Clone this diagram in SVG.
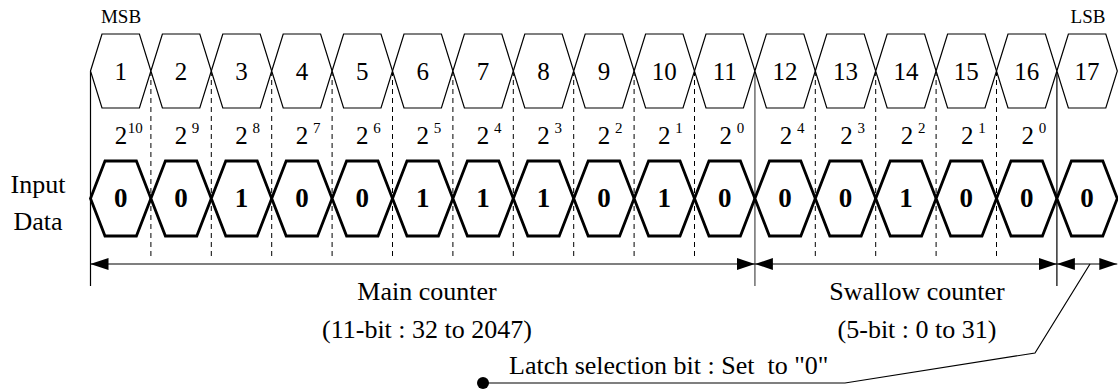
<svg xmlns="http://www.w3.org/2000/svg" xmlns:xlink="http://www.w3.org/1999/xlink" width="1118" height="392" viewBox="0 0 1118 392">
<style>
.t{font-family:'Liberation Serif','Times New Roman',Times,serif;fill:#000}
.num{font-size:25px;text-anchor:middle}
.bit{font-size:27px;font-weight:bold;text-anchor:middle}
.two{font-size:25px;text-anchor:middle}
.sup{font-size:15px}
.lbl{font-size:26px;text-anchor:middle}
.sm{font-size:19px;text-anchor:middle}
.ht{fill:#fff;stroke:#000;stroke-width:1.2}
.hb{fill:#fff;stroke:#000;stroke-width:2.8;stroke-linejoin:miter}
.dash{stroke:#000;stroke-width:1;stroke-dasharray:5,4;fill:none}
.solid{stroke:#000;stroke-width:1.2;fill:none}
.conn{stroke:#000;stroke-width:1.2;fill:none}
</style>
<defs>
<path id="hexT" class="ht" d="M0,71 L11.5,34 L48.9,34 L60.4,71 L48.9,108 L11.5,108 Z"/>
<path id="hexB" class="hb" d="M0,198.5 L14.5,161 L45.9,161 L60.4,198.5 L45.9,236 L14.5,236 Z"/>
<marker id="ah" markerUnits="userSpaceOnUse" markerWidth="18" markerHeight="12" refX="18" refY="6" orient="auto-start-reverse"><path d="M0,0 L18,6 L0,12 Z" fill="#000"/></marker>
</defs>
<g font-family="Liberation Serif, Times New Roman, serif" class="t">
<g id="labels">
<text class="t sm" x="121" y="23">MSB</text>
<text class="t sm" x="1088" y="23">LSB</text>
<text class="t lbl" x="38" y="193">Input</text>
<text class="t lbl" x="38" y="230">Data</text>
</g>
<g id="guides">
<path class="solid" d="M90.5,71 V286 M1056.9,71 V286"/>
<path d="M754.9,71 V286" stroke="#777" stroke-width="1.6" fill="none"/>
<path class="dash" d="M150.9,71 V259 M211.3,71 V259 M271.7,71 V259 M332.1,71 V259 M392.5,71 V259 M452.9,71 V259 M513.3,71 V259 M573.7,71 V259 M634.1,71 V259 M694.5,71 V259 M815.3,71 V259 M875.7,71 V259 M936.1,71 V259 M996.5,71 V259"/>
</g>
<g id="bit1"><use xlink:href="#hexT" x="90.5"/><text class="t num" x="120.7" y="80">1</text><text class="t two" x="121" y="144">2</text><text class="t sup" x="127.7" y="133">10</text><use xlink:href="#hexB" x="90.5"/><text class="t bit" x="120.7" y="207">0</text></g>
<g id="bit2"><use xlink:href="#hexT" x="150.9"/><text class="t num" x="181.1" y="80">2</text><text class="t two" x="181.1" y="144">2</text><text class="t sup" x="191.8" y="133">9</text><use xlink:href="#hexB" x="150.9"/><text class="t bit" x="181.1" y="207">0</text></g>
<g id="bit3"><use xlink:href="#hexT" x="211.3"/><text class="t num" x="241.5" y="80">3</text><text class="t two" x="241.5" y="144">2</text><text class="t sup" x="252.5" y="133">8</text><use xlink:href="#hexB" x="211.3"/><text class="t bit" x="241.5" y="207">1</text></g>
<g id="bit4"><use xlink:href="#hexT" x="271.7"/><text class="t num" x="301.9" y="80">4</text><text class="t two" x="301.9" y="144">2</text><text class="t sup" x="312.9" y="133">7</text><use xlink:href="#hexB" x="271.7"/><text class="t bit" x="301.9" y="207">0</text></g>
<g id="bit5"><use xlink:href="#hexT" x="332.1"/><text class="t num" x="362.3" y="80">5</text><text class="t two" x="362.3" y="144">2</text><text class="t sup" x="373.3" y="133">6</text><use xlink:href="#hexB" x="332.1"/><text class="t bit" x="362.3" y="207">0</text></g>
<g id="bit6"><use xlink:href="#hexT" x="392.5"/><text class="t num" x="422.7" y="80">6</text><text class="t two" x="422.7" y="144">2</text><text class="t sup" x="433.7" y="133">5</text><use xlink:href="#hexB" x="392.5"/><text class="t bit" x="422.7" y="207">1</text></g>
<g id="bit7"><use xlink:href="#hexT" x="452.9"/><text class="t num" x="483.1" y="80">7</text><text class="t two" x="483.1" y="144">2</text><text class="t sup" x="494.1" y="133">4</text><use xlink:href="#hexB" x="452.9"/><text class="t bit" x="483.1" y="207">1</text></g>
<g id="bit8"><use xlink:href="#hexT" x="513.3"/><text class="t num" x="543.5" y="80">8</text><text class="t two" x="543.5" y="144">2</text><text class="t sup" x="554.5" y="133">3</text><use xlink:href="#hexB" x="513.3"/><text class="t bit" x="543.5" y="207">1</text></g>
<g id="bit9"><use xlink:href="#hexT" x="573.7"/><text class="t num" x="603.9" y="80">9</text><text class="t two" x="603.9" y="144">2</text><text class="t sup" x="614.9" y="133">2</text><use xlink:href="#hexB" x="573.7"/><text class="t bit" x="603.9" y="207">0</text></g>
<g id="bit10"><use xlink:href="#hexT" x="634.1"/><text class="t num" x="664.3" y="80">10</text><text class="t two" x="664.3" y="144">2</text><text class="t sup" x="675.3" y="133">1</text><use xlink:href="#hexB" x="634.1"/><text class="t bit" x="664.3" y="207">1</text></g>
<g id="bit11"><use xlink:href="#hexT" x="694.5"/><text class="t num" x="724.7" y="80">11</text><text class="t two" x="725.7" y="144">2</text><text class="t sup" x="736.7" y="133">0</text><use xlink:href="#hexB" x="694.5"/><text class="t bit" x="724.7" y="207">0</text></g>
<g id="bit12"><use xlink:href="#hexT" x="754.9"/><text class="t num" x="785.1" y="80">12</text><text class="t two" x="786.1" y="144">2</text><text class="t sup" x="797.1" y="133">4</text><use xlink:href="#hexB" x="754.9"/><text class="t bit" x="785.1" y="207">0</text></g>
<g id="bit13"><use xlink:href="#hexT" x="815.3"/><text class="t num" x="845.5" y="80">13</text><text class="t two" x="846.5" y="144">2</text><text class="t sup" x="857.5" y="133">3</text><use xlink:href="#hexB" x="815.3"/><text class="t bit" x="845.5" y="207">0</text></g>
<g id="bit14"><use xlink:href="#hexT" x="875.7"/><text class="t num" x="905.9" y="80">14</text><text class="t two" x="906.9" y="144">2</text><text class="t sup" x="917.9" y="133">2</text><use xlink:href="#hexB" x="875.7"/><text class="t bit" x="905.9" y="207">1</text></g>
<g id="bit15"><use xlink:href="#hexT" x="936.1"/><text class="t num" x="966.3" y="80">15</text><text class="t two" x="967.3" y="144">2</text><text class="t sup" x="978.3" y="133">1</text><use xlink:href="#hexB" x="936.1"/><text class="t bit" x="966.3" y="207">0</text></g>
<g id="bit16"><use xlink:href="#hexT" x="996.5"/><text class="t num" x="1026.7" y="80">16</text><text class="t two" x="1027.7" y="144">2</text><text class="t sup" x="1038.7" y="133">0</text><use xlink:href="#hexB" x="996.5"/><text class="t bit" x="1026.7" y="207">0</text></g>
<g id="bit17"><use xlink:href="#hexT" x="1056.9"/><text class="t num" x="1087.1" y="80">17</text><use xlink:href="#hexB" x="1056.9"/><text class="t bit" x="1087.1" y="207">0</text></g>
<g id="connectors">
<line class="conn" x1="90.5" y1="264" x2="754.9" y2="264" marker-start="url(#ah)" marker-end="url(#ah)"/>
<line class="conn" x1="754.9" y1="264" x2="1056.9" y2="264" marker-start="url(#ah)" marker-end="url(#ah)"/>
<line class="conn" x1="1056.9" y1="264" x2="1117.3" y2="264" marker-start="url(#ah)" marker-end="url(#ah)"/>
<polyline class="conn" points="483,383 845,383 1035,353 1090,264"/>
<circle cx="483" cy="383" r="6" fill="#000"/>
</g>
<g id="counter-labels">
<text class="t lbl" x="427" y="300">Main counter</text>
<text class="t lbl" x="427" y="338">(11-bit : 32 to 2047)</text>
<text class="t lbl" x="917" y="300">Swallow counter</text>
<text class="t lbl" x="917" y="338">(5-bit : 0 to 31)</text>
<text class="t lbl" x="509" y="374" style="text-anchor:start" xml:space="preserve">Latch selection bit : Set  to "0"</text>
</g>
</g>
</svg>
